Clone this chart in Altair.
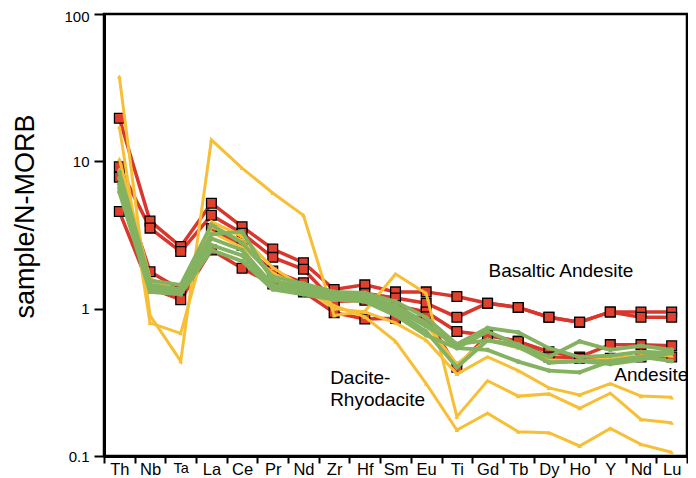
import altair as alt
import pandas as pd

# ---- categories (second "Nd" kept unique as "Nd2", shown as "Nd") ----
elements = ["Th", "Nb", "Ta", "La", "Ce", "Pr", "Nd", "Zr", "Hf", "Sm", "Eu",
            "Ti", "Gd", "Tb", "Dy", "Ho", "Y", "Nd2", "Lu"]

# ---- Basaltic Andesite (red, squares) ----
basaltic_1 = [19.6, 3.94, 2.64, 5.2, 3.6, 2.54, 2.05, 1.35, 1.45, 1.30, 1.30, 1.21, 1.09, 1.02, 0.875, 0.81, 0.95, 0.95, 0.95]
basaltic_2 = [9.2, 3.52, 2.44, 4.3, 3.25, 2.23, 1.85, 1.12, 1.27, 1.18, 1.09, 0.875, 1.09, 1.02, 0.875, 0.81, 0.95, 0.875, 0.875]
basaltic_3 = [7.8, 1.78, 1.35, 3.5, 2.7, 1.8, 1.5, 1.12, 1.14, 1.05, 0.95, 0.70, 0.66, 0.60, 0.51, 0.47, 0.57, 0.57, 0.56]
basaltic_4 = [4.56, 1.38, 1.15, 2.5, 1.88, 1.47, 1.30, 0.94, 0.85, 0.86, 0.88, 0.40, 0.66, 0.60, 0.47, 0.46, 0.46, 0.47, 0.47]

# ---- Andesite (green, dots) ----
andesite_1 = [8.5, 1.55, 1.45, 3.7, 2.8, 1.65, 1.48, 1.30, 1.28, 1.12, 0.87, 0.575, 0.74, 0.69, 0.54, 0.47, 0.48, 0.51, 0.50]
andesite_2 = [7.7, 1.45, 1.35, 3.2, 3.33, 1.55, 1.40, 1.25, 1.22, 1.05, 0.80, 0.54, 0.70, 0.57, 0.47, 0.60, 0.525, 0.56, 0.525]
andesite_3 = [7.0, 1.40, 1.30, 3.0, 2.5, 1.45, 1.35, 1.20, 1.20, 1.00, 0.76, 0.575, 0.61, 0.57, 0.43, 0.44, 0.44, 0.47, 0.44]
andesite_4 = [6.6, 1.35, 1.28, 2.7, 2.3, 1.40, 1.30, 1.20, 1.15, 0.95, 0.70, 0.40, 0.61, 0.55, 0.43, 0.44, 0.42, 0.45, 0.50]
andesite_5 = [6.2, 1.30, 1.25, 2.5, 2.1, 1.35, 1.25, 1.15, 1.12, 0.90, 0.66, 0.54, 0.525, 0.437, 0.38, 0.37, 0.44, 0.47, 0.525]

# ---- Dacite-Rhyodacite (yellow, triangles) ----
dacite_1 = [37.6, 0.90, 0.44, 14.0, 9.0, 6.1, 4.3, 0.90, 0.96, 1.72, 1.27, 0.185, 0.324, 0.255, 0.264, 0.211, 0.267, 0.177, 0.168]
dacite_2 = [17.2, 0.80, 0.68, 3.9, 3.1, 1.9, 1.4, 1.0, 0.95, 0.80, 0.61, 0.36, 0.47, 0.38, 0.29, 0.26, 0.31, 0.255, 0.25]
dacite_3 = [10.4, 1.6, 1.3, 3.3, 2.6, 1.75, 1.35, 1.05, 0.88, 0.60, 0.31, 0.15, 0.195, 0.146, 0.144, 0.117, 0.154, 0.120, 0.106]
dacite_4 = [8.8, 1.5, 1.35, 3.6, 2.9, 1.6, 1.3, 1.15, 1.2, 1.0, 0.78, 0.42, 0.62, 0.54, 0.45, 0.44, 0.46, 0.48, 0.48]

# ---- annotations ----
label_texts = ["Basaltic Andesite", "Andesite", "Dacite-", "Rhyodacite"]
label_x = ["Gd", "Y", "Zr", "Zr"]
label_y = [1.634, 0.3205, 0.308, 0.220]
label_dx = [1, 4, -4, -4]

y_ticks = [0.1, 1, 10, 100]

series = {
    "red": [basaltic_1, basaltic_2, basaltic_3, basaltic_4],
    "green": [andesite_1, andesite_2, andesite_3, andesite_4, andesite_5],
    "yellow": [dacite_1, dacite_2, dacite_3, dacite_4],
}

rows = []
for grp, lists in series.items():
    for i, vals in enumerate(lists):
        for el, v in zip(elements, vals):
            rows.append({"group": grp, "series": f"{grp}{i}", "el": el, "v": v})
df = pd.DataFrame(rows)

FONT = "Liberation Sans"
RED_LINE = "#d8372d"
RED_FILL = "#e0412f"
GREEN = "#84b260"
YELLOW = "#f6bf36"

x_enc = alt.X(
    "el:N",
    scale=alt.Scale(type="band", domain=elements, paddingInner=0, paddingOuter=0),
    axis=alt.Axis(
        title=None, tickBand="extent", tickSize=7, tickWidth=2, tickColor="black",
        domainColor="black", domainWidth=3, labelAngle=0, labelFont=FONT,
        labelFontSize={"condition": {"test": "datum.value == 'Ta'", "value": 14.5}, "value": 16.5},
        labelColor="black", labelPadding=-2, grid=False,
        labelExpr="datum.value == 'Nd2' ? 'Nd' : datum.value",
    ),
)
y_enc = alt.Y(
    "v:Q",
    scale=alt.Scale(type="log", domain=[0.1, 100]),
    axis=alt.Axis(
        values=y_ticks, format="~g", title="sample/N-MORB", titleFont=FONT,
        titleFontSize=27, titleFontWeight="normal", titleColor="black",
        titleAngle=270, titleAlign="center", titleBaseline="alphabetic",
        titleX=-71, titleY=202, tickSize=10, tickWidth=2, tickColor="black",
        domainColor="black", domainWidth=3, labelFont=FONT, labelFontSize=15,
        labelOffset={"condition": {"test": "datum.value == 100", "value": 2.5}, "value": 0},
        labelColor="black", labelPadding=5, grid=False,
    ),
)

base = alt.Chart(df)

red_line = base.transform_filter("datum.group == 'red'").mark_line(
    color=RED_LINE, strokeWidth=3.5).encode(x=x_enc, y=y_enc, detail="series:N")
red_pts = base.transform_filter("datum.group == 'red'").mark_square(
    size=95, color=RED_FILL, stroke="black", strokeWidth=1.3, opacity=1).encode(
    x=x_enc, y=y_enc, detail="series:N")

yel_line = base.transform_filter("datum.group == 'yellow'").mark_line(
    color=YELLOW, strokeWidth=3).encode(x=x_enc, y=y_enc, detail="series:N")
yel_pts = base.transform_filter("datum.group == 'yellow'").mark_point(
    shape="triangle-up", filled=True, size=22, color=YELLOW, opacity=1).encode(
    x=x_enc, y=y_enc, detail="series:N")

grn_line = base.transform_filter("datum.group == 'green'").mark_line(
    color=GREEN, strokeWidth=3.8).encode(x=x_enc, y=y_enc, detail="series:N")
grn_pts = base.transform_filter("datum.group == 'green'").mark_circle(
    size=22, color=GREEN, opacity=1).encode(x=x_enc, y=y_enc, detail="series:N")

text_layers = []
for t, ex, ev, edx in zip(label_texts, label_x, label_y, label_dx):
    text_layers.append(
        alt.Chart(pd.DataFrame({"text": [t], "el": [ex], "v": [ev]})).mark_text(
            align="left", baseline="alphabetic", font=FONT, fontSize=19,
            color="black", dx=edx,
        ).encode(x=x_enc, y=y_enc, text="text:N")
    )

chart = alt.layer(
    red_line, red_pts, yel_line, yel_pts, grn_line, grn_pts, *text_layers
).properties(
    width=583, height=442,
    autosize=alt.AutoSizeParams(type="none"),
    padding={"left": 96, "top": 6, "right": 1, "bottom": 22},
    background="white",
).configure_view(stroke="black", strokeWidth=2.5)

chart.save("out.html", embed_options={"renderer": "svg", "actions": False})
